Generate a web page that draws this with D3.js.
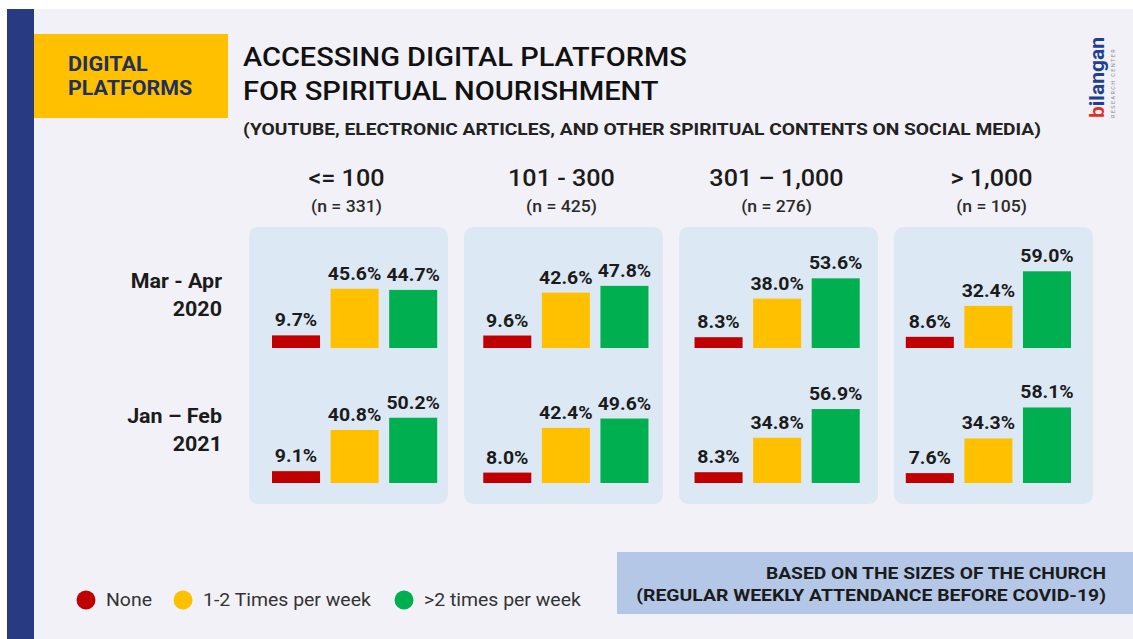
<!DOCTYPE html>
<html><head><meta charset="utf-8">
<script src="https://cdn.jsdelivr.net/npm/d3@7"></script>
<style>
body{margin:0;background:#fff;}
svg{display:block;font-family:Roboto,'Noto Sans',sans-serif;}
</style>
</head><body><svg id="c" width="1133" height="639"></svg>
<script>
// ---- data ----
const sizes = ["<= 100", "101 - 300", "301 – 1,000", "> 1,000"];
const sampleN = [331, 425, 276, 105];
const periodLine1 = ["Mar - Apr", "Jan – Feb"];
const periodLine2 = ["2020", "2021"];
const seriesNames = ["None", "1-2 Times per week", ">2 times per week"];
const none2020 = [9.7, 9.6, 8.3, 8.6];
const once2020 = [45.6, 42.6, 38.0, 32.4];
const more2020 = [44.7, 47.8, 53.6, 59.0];
const none2021 = [9.1, 8.0, 8.3, 7.6];
const once2021 = [40.8, 42.4, 34.8, 34.3];
const more2021 = [50.2, 49.6, 56.9, 58.1];

const colors = ["#c00000", "#ffc000", "#00b050"];
const rows = [[none2020, once2020, more2020], [none2021, once2021, more2021]];

const svg = d3.select("#c");
const ink = "#1b1b1b";

// widen Roboto glyph runs to mimic the wider original typeface
function widen(sel, factor) {
  sel.each(function () {
    const w = this.getComputedTextLength();
    d3.select(this).attr("textLength", w * factor).attr("lengthAdjust", "spacingAndGlyphs");
  });
  return sel;
}

// background
svg.append("rect").attr("x", 7).attr("y", 9).attr("width", 1126).attr("height", 630).attr("fill", "#f1f1f7");
svg.append("rect").attr("x", 7).attr("y", 9).attr("width", 27).attr("height", 630).attr("fill", "#283a82");

// badge
svg.append("rect").attr("x", 34).attr("y", 34).attr("width", 194).attr("height", 84).attr("fill", "#ffc000");
widen(svg.append("text").attr("x", 68).attr("y", 71).attr("font-size", 21).attr("font-weight", 700)
  .attr("fill", "#1f2f5e").text("DIGITAL"), 1.03);
widen(svg.append("text").attr("x", 68).attr("y", 95).attr("font-size", 21).attr("font-weight", 700)
  .attr("fill", "#1f2f5e").text("PLATFORMS"), 1.02);

// title
widen(svg.append("text").attr("x", 243).attr("y", 66).attr("font-size", 26).attr("font-weight", 500)
  .attr("fill", "#111").text("ACCESSING DIGITAL PLATFORMS"), 1.115);
widen(svg.append("text").attr("x", 243).attr("y", 100).attr("font-size", 26).attr("font-weight", 500)
  .attr("fill", "#111").text("FOR SPIRITUAL NOURISHMENT"), 1.12);
widen(svg.append("text").attr("x", 243).attr("y", 135).attr("font-size", 16.5).attr("font-weight", 700)
  .attr("fill", "#222").text("(YOUTUBE, ELECTRONIC ARTICLES, AND OTHER SPIRITUAL CONTENTS ON SOCIAL MEDIA)"), 1.163);

// logo
const logo = svg.append("g").attr("transform", "translate(1104,118) rotate(-90)");
const lt = logo.append("text").attr("x", 0).attr("y", 0).attr("font-size", 21).attr("font-weight", 700).attr("fill", "#1f3f95");
lt.append("tspan").attr("fill", "#e0302a").text("b");
lt.append("tspan").text("ilangan");
logo.append("text").attr("x", 0).attr("y", 11).attr("font-size", 5.5).attr("fill", "#888")
  .attr("letter-spacing", 1.4).text("RESEARCH CENTER");

// scales
const xPanel = d3.scaleBand().domain(d3.range(sizes.length)).range([249, 1093]).paddingInner(0.075);
const xGroup = d3.scaleBand().domain(d3.range(sizes.length)).range([272, 1071]).paddingInner(0.218);
const xBar = d3.scaleBand().domain(d3.range(3)).range([0, xGroup.bandwidth()]).paddingInner(0.18);
const yRow = d3.scalePoint().domain([0, 1]).range([348, 483]);
const h = d3.scaleLinear().domain([0, 60]).range([0, 78]);
const fmt = v => d3.format(".1f")(v) + "%";

// headers
sizes.forEach((s, i) => {
  const cx = xPanel(i) + xPanel.bandwidth() / 2;
  widen(svg.append("text").attr("x", cx - 2).attr("y", 186).attr("text-anchor", "middle").attr("font-size", 23.5)
    .attr("font-weight", 500).attr("fill", ink).text(s), 1.07);
  widen(svg.append("text").attr("x", cx - 2).attr("y", 212).attr("text-anchor", "middle").attr("font-size", 16)
    .attr("font-weight", 500).attr("fill", "#2a2a2a").text(`(n = ${sampleN[i]})`), 1.1);
});

// panels
svg.append("g").selectAll("rect").data(sizes).join("rect")
  .attr("x", (d, i) => xPanel(i)).attr("y", 227)
  .attr("width", xPanel.bandwidth()).attr("height", 277)
  .attr("rx", 9).attr("fill", "#dde8f5");

// row labels
periodLine1.forEach((p, r) => {
  widen(svg.append("text").attr("x", 222).attr("y", yRow(r) - 60).attr("text-anchor", "end").attr("font-size", 19.5)
    .attr("font-weight", 700).attr("fill", ink).text(p), 1.1);
  widen(svg.append("text").attr("x", 222).attr("y", yRow(r) - 32).attr("text-anchor", "end").attr("font-size", 19.5)
    .attr("font-weight", 700).attr("fill", ink).text(periodLine2[r]), 1.1);
});

// bars
rows.forEach((rowSeries, r) => {
  const base = yRow(r);
  sizes.forEach((s, i) => {
    const g = svg.append("g").attr("transform", `translate(${xGroup(i)},0)`);
    const vals = rowSeries.map(arr => arr[i]);
    g.selectAll("rect").data(vals).join("rect")
      .attr("x", (d, k) => xBar(k)).attr("width", xBar.bandwidth())
      .attr("y", d => base - h(d)).attr("height", d => h(d))
      .attr("fill", (d, k) => colors[k]);
    widen(g.selectAll("text").data(vals).join("text")
      .attr("x", (d, k) => xBar(k) + xBar.bandwidth() / 2)
      .attr("y", d => base - h(d) - 9)
      .attr("text-anchor", "middle").attr("font-size", 18).attr("font-weight", 700)
      .attr("fill", ink).text(fmt), 1.08);
  });
});

// legend
const legX = [86, 183, 404];
seriesNames.forEach((n, k) => {
  svg.append("circle").attr("cx", legX[k]).attr("cy", 600).attr("r", 9.5).attr("fill", colors[k]);
  widen(svg.append("text").attr("x", legX[k] + 20).attr("y", 606).attr("font-size", 17.5).attr("fill", "#333").text(n), 1.11);
});

// note box
svg.append("rect").attr("x", 617).attr("y", 552).attr("width", 516).attr("height", 62).attr("fill", "#b4c7e7");
widen(svg.append("text").attr("x", 1106).attr("y", 579).attr("text-anchor", "end").attr("font-size", 17)
  .attr("font-weight", 700).attr("fill", "#1b1b1b").text("BASED ON THE SIZES OF THE CHURCH"), 1.13);
widen(svg.append("text").attr("x", 1106).attr("y", 601).attr("text-anchor", "end").attr("font-size", 17)
  .attr("font-weight", 700).attr("fill", "#1b1b1b").text("(REGULAR WEEKLY ATTENDANCE BEFORE COVID-19)"), 1.14);
</script>
</body></html>
